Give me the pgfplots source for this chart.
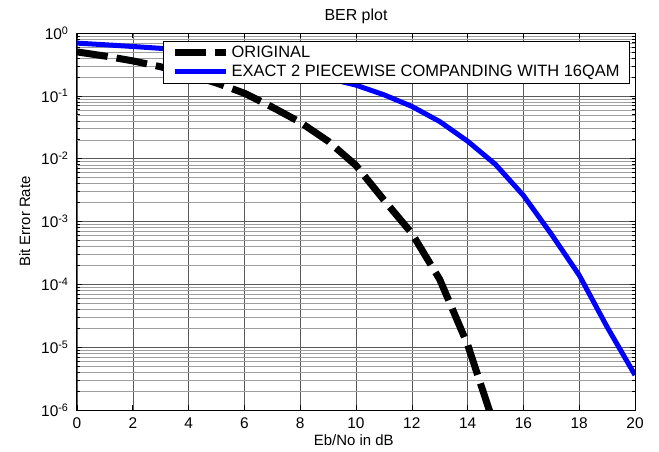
\documentclass[border=0pt]{standalone}
\usepackage{fontspec}
\setmainfont{Liberation Sans}
\usepackage{pgfplots}
\pgfplotsset{compat=1.18}
\begin{document}
\begin{tikzpicture}
\begin{axis}[
  name=ax,
  scale only axis, width=558bp, height=377bp,
  xmin=0, xmax=20, ymin=1e-6, ymax=1, ymode=log,
  xtick={0,2,...,20}, xticklabels={0,2,4,6,8,10,12,14,16,18,20},
  ytick={1e-6,1e-5,1e-4,1e-3,1e-2,1e-1,1},
  yticklabels={10\textsuperscript{-6},10\textsuperscript{-5},10\textsuperscript{-4},10\textsuperscript{-3},10\textsuperscript{-2},10\textsuperscript{-1},10\textsuperscript{0}},
  grid=both,
  major grid style={black!65, line width=0.5bp},
  minor grid style={black!38, line width=0.4bp},
  tick align=inside, major tick length=5bp, minor tick length=3bp,
  axis line style={line width=1bp},
  tick style={black, line width=0.6bp},
  ticklabel style={font=\fontsize{15.5}{18}\selectfont},
  xticklabel style={yshift=-4bp},
  yticklabel style={xshift=-5bp},
  title={BER plot}, title style={font=\fontsize{16}{19}\selectfont},
  xlabel={Eb/No in dB}, ylabel={Bit Error Rate},
  label style={font=\fontsize{15}{18}\selectfont},
  xlabel style={at={(axis description cs:0.496,-0.093)}, anchor=base},
  ylabel style={at={(axis description cs:-0.084,0.5)}, anchor=base},
  legend style={at={(rel axis cs:0.991,0.979)}, anchor=north east,
    font=\fontsize{16.5}{19}\selectfont, draw=black, line width=0.8bp, fill=white,
    cells={anchor=west}, inner xsep=8bp, inner ysep=3bp, row sep=2bp},
  legend image code/.code={\draw[#1] (0bp,0bp) -- (51bp,0bp);},
]
\addplot[black, line width=7bp, dash pattern=on 31bp off 9bp] coordinates {
(0,0.50) (1,0.43) (2,0.36) (3,0.29) (4,0.22) (5,0.16) (6,0.11) (7,0.066)
(8,0.038) (9,0.019) (10,0.0078) (11,0.0022) (12,6.5e-4) (13,1.2e-4) (14,1.1e-5) (15,5e-7)
};
\addlegendentry{ORIGINAL}
\addplot[blue, line width=5bp, line join=round] coordinates {
(0,0.69) (1,0.65) (2,0.61) (3,0.57) (4,0.52) (5,0.46) (6,0.39) (7,0.32) (8,0.25)
(9,0.19) (10,0.148) (11,0.104) (12,0.068) (13,0.039) (14,0.019) (15,0.0081)
(16,0.0026) (17,6.3e-4) (18,1.4e-4) (19,2.1e-5) (20,3.6e-6)
};
\addlegendentry{EXACT 2 PIECEWISE COMPANDING WITH 16QAM}
\end{axis}
\pgfresetboundingbox
\path[use as bounding box] ([shift={(-77bp,-42bp)}]ax.south west) rectangle ([shift={(24bp,33bp)}]ax.north east);
\end{tikzpicture}
\end{document}
